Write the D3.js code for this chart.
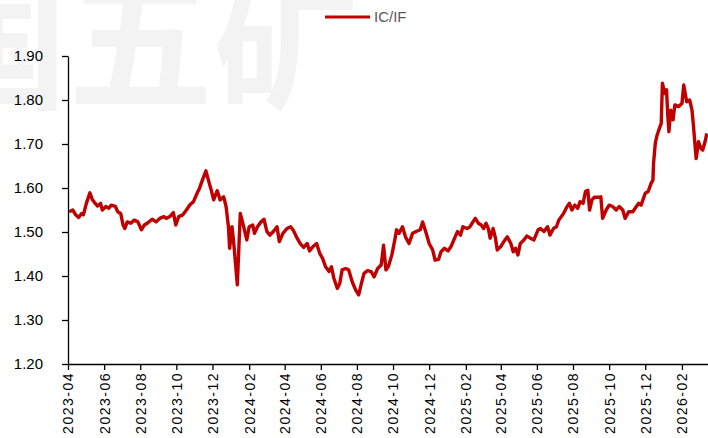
<!DOCTYPE html>
<html>
<head>
<meta charset="utf-8">
<script src="https://cdn.jsdelivr.net/npm/d3@7"></script>
<style>
    body { margin: 0; background: #fff; }
    svg { display: block; }
    .axis text { font-family: "Liberation Sans", Arial, sans-serif; fill: #000; }
</style>
</head>
<body>
<svg width="708" height="438"></svg>
<script>
/* IC/IF ratio data */

var dates = [
    "2023-04-03","2023-04-09","2023-04-14","2023-04-19","2023-04-24","2023-04-27","2023-05-02","2023-05-08",
    "2023-05-12","2023-05-17","2023-05-21","2023-05-26","2023-05-29","2023-06-04","2023-06-09","2023-06-13",
    "2023-06-20","2023-06-24","2023-06-29","2023-07-03","2023-07-06","2023-07-10","2023-07-16","2023-07-22",
    "2023-07-28","2023-08-03","2023-08-08","2023-08-14","2023-08-21","2023-08-28","2023-09-03","2023-09-10",
    "2023-09-14","2023-09-20","2023-09-26","2023-09-30","2023-10-05","2023-10-12","2023-10-18","2023-10-24",
    "2023-10-30","2023-11-05","2023-11-09","2023-11-14","2023-11-20","2023-11-25","2023-11-29","2023-12-03",
    "2023-12-09","2023-12-14","2023-12-20","2023-12-24","2023-12-28","2023-12-30","2024-01-03","2024-01-06",
    "2024-01-12","2024-01-17","2024-01-22","2024-01-28","2024-02-01","2024-02-07","2024-02-10","2024-02-15",
    "2024-02-21","2024-02-26","2024-03-02","2024-03-07","2024-03-13","2024-03-19","2024-03-23","2024-03-29",
    "2024-04-05","2024-04-11","2024-04-16","2024-04-22","2024-04-27","2024-05-03","2024-05-09","2024-05-13",
    "2024-05-19","2024-05-25","2024-05-30","2024-06-04","2024-06-09","2024-06-15","2024-06-19","2024-06-23",
    "2024-06-29","2024-07-03","2024-07-07","2024-07-13","2024-07-18","2024-07-24","2024-07-30","2024-08-04",
    "2024-08-08","2024-08-13","2024-08-19","2024-08-25","2024-08-30","2024-09-05","2024-09-11","2024-09-15",
    "2024-09-19","2024-09-23","2024-09-29","2024-10-04","2024-10-07","2024-10-11","2024-10-17","2024-10-22",
    "2024-10-28","2024-11-03","2024-11-09","2024-11-16","2024-11-20","2024-11-26","2024-12-01","2024-12-07",
    "2024-12-11","2024-12-17","2024-12-21","2024-12-27","2025-01-02","2025-01-07","2025-01-13","2025-01-18",
    "2025-01-23","2025-01-27","2025-02-03","2025-02-08","2025-02-13","2025-02-17","2025-02-22","2025-02-27",
    "2025-03-03","2025-03-07","2025-03-11","2025-03-14","2025-03-19","2025-03-23","2025-03-26","2025-04-01",
    "2025-04-06","2025-04-12","2025-04-18","2025-04-22","2025-04-26","2025-04-30","2025-05-04","2025-05-10",
    "2025-05-15","2025-05-21","2025-05-27","2025-06-03","2025-06-07","2025-06-13","2025-06-19","2025-06-23",
    "2025-06-29","2025-07-04","2025-07-08","2025-07-16","2025-07-22","2025-07-26","2025-07-30","2025-08-04",
    "2025-08-09","2025-08-13","2025-08-18","2025-08-22","2025-08-26","2025-08-29","2025-09-02","2025-09-06",
    "2025-09-14","2025-09-17","2025-09-20","2025-09-26","2025-10-01","2025-10-07","2025-10-13","2025-10-18",
    "2025-10-24","2025-10-28","2025-11-03","2025-11-10","2025-11-16","2025-11-20","2025-11-24","2025-12-01",
    "2025-12-06","2025-12-11","2025-12-14","2025-12-15","2025-12-18","2025-12-21","2025-12-25","2025-12-28",
    "2025-12-30","2026-01-03","2026-01-06","2026-01-08","2026-01-10","2026-01-13","2026-01-17","2026-01-20",
    "2026-01-26","2026-02-01","2026-02-04","2026-02-09","2026-02-14","2026-02-18","2026-02-21","2026-02-25",
    "2026-03-01","2026-03-05","2026-03-08","2026-03-12","2026-03-15"
];

var ratio = [
    1.546,1.550,1.539,1.533,1.542,1.539,1.565,1.589,
    1.574,1.565,1.559,1.565,1.550,1.558,1.554,1.561,
    1.558,1.546,1.542,1.516,1.508,1.523,1.520,1.527,
    1.523,1.505,1.516,1.521,1.529,1.523,1.531,1.535,
    1.531,1.535,1.544,1.516,1.535,1.539,1.550,1.562,
    1.569,1.588,1.599,1.618,1.639,1.614,1.595,1.573,
    1.594,1.573,1.580,1.558,1.512,1.463,1.512,1.474,
    1.380,1.542,1.516,1.482,1.512,1.516,1.497,1.512,
    1.523,1.529,1.501,1.493,1.501,1.512,1.478,1.497,
    1.508,1.512,1.503,1.486,1.474,1.465,1.474,1.457,
    1.467,1.474,1.452,1.440,1.421,1.410,1.421,1.395,
    1.372,1.383,1.414,1.417,1.414,1.387,1.368,1.357,
    1.380,1.406,1.412,1.410,1.398,1.417,1.425,1.470,
    1.414,1.421,1.448,1.482,1.505,1.497,1.512,1.489,
    1.474,1.497,1.501,1.505,1.523,1.497,1.474,1.459,
    1.436,1.438,1.455,1.463,1.457,1.467,1.486,1.501,
    1.493,1.512,1.508,1.512,1.523,1.531,1.520,1.516,
    1.508,1.520,1.508,1.486,1.508,1.486,1.459,1.467,
    1.478,1.489,1.474,1.455,1.463,1.448,1.474,1.482,
    1.491,1.486,1.482,1.505,1.508,1.501,1.512,1.493,
    1.508,1.512,1.527,1.542,1.558,1.565,1.550,1.561,
    1.554,1.569,1.565,1.592,1.595,1.550,1.573,1.579,
    1.579,1.580,1.531,1.550,1.561,1.558,1.550,1.558,
    1.550,1.531,1.546,1.546,1.558,1.565,1.561,1.588,
    1.592,1.611,1.618,1.656,1.702,1.720,1.736,1.747,
    1.838,1.815,1.823,1.766,1.728,1.777,1.755,1.789,
    1.785,1.792,1.834,1.796,1.800,1.777,1.732,1.667,
    1.705,1.690,1.686,1.705,1.724
];

var xTicks = ["2023-04","2023-06","2023-08","2023-10","2023-12","2024-02","2024-04","2024-06","2024-08",
              "2024-10","2024-12","2025-02","2025-04","2025-06","2025-08","2025-10","2025-12","2026-02"];
var yTicks = [1.20, 1.30, 1.40, 1.50, 1.60, 1.70, 1.80, 1.90];
var seriesName = "IC/IF";

var parseDay = d3.timeParse("%Y-%m-%d"),
    parseMonth = d3.timeParse("%Y-%m");

var data = dates.map(function (d, i) {
    return {date: parseDay(d), value: ratio[i]};
});

var svg = d3.select("svg"),
    plot = {left: 68, right: 708, top: 56, bottom: 364};

/* watermark */
svg.append("text")
    .attr("x", -222)
    .attr("y", 98)
    .attr("font-family", "Noto Sans CJK SC")
    .attr("font-weight", "bold")
    .attr("font-size", 145)
    .attr("fill", "#f3f3f3")
    .text("中国五矿");

var x = d3.scaleTime()
    .domain([parseMonth("2023-04"), parseDay("2026-03-17")])
    .range([plot.left, plot.right]);
var y = d3.scaleLinear()
    .domain([1.2, 1.9])
    .range([plot.bottom, plot.top]);

/* y axis */
var yAxis = svg.append("g")
    .attr("class", "axis")
    .attr("transform", "translate(" + plot.left + ",0)")
    .call(d3.axisLeft(y).tickValues(yTicks).tickFormat(d3.format(".2f"))
        .tickSize(6).tickSizeOuter(0).tickPadding(19));
yAxis.selectAll("text").attr("font-size", 15);

/* x axis, labels turned up */
var xAxis = svg.append("g")
    .attr("class", "axis")
    .attr("transform", "translate(0," + plot.bottom + ")")
    .call(d3.axisBottom(x).tickValues(xTicks.map(parseMonth)).tickFormat(d3.timeFormat("%Y-%m"))
        .tickSize(6).tickSizeOuter(0));
xAxis.selectAll("text")
    .attr("font-size", 14)
    .attr("letter-spacing", 1.5)
    .attr("text-anchor", "end")
    .attr("transform", "rotate(-90)")
    .attr("x", -8)
    .attr("y", 0)
    .attr("dy", "0.35em");

svg.selectAll(".axis path, .axis line").attr("stroke", "#000").attr("stroke-width", 1.3);

/* the line */
var line = d3.line()
    .x(function (d) { return x(d.date); })
    .y(function (d) { return y(d.value); });

svg.append("path")
    .datum(data)
    .attr("fill", "none")
    .attr("stroke", "#c00000")
    .attr("stroke-width", 3.4)
    .attr("stroke-linejoin", "round")
    .attr("d", line);

/* legend */
svg.append("line")
    .attr("x1", 325).attr("x2", 370)
    .attr("y1", 17).attr("y2", 17)
    .attr("stroke", "#c00000")
    .attr("stroke-width", 3);
svg.append("text")
    .attr("x", 374)
    .attr("y", 17)
    .attr("dy", "0.35em")
    .attr("font-family", "Liberation Sans, Arial, sans-serif")
    .attr("font-size", 15)
    .attr("fill", "#595959")
    .text(seriesName);
</script>
</body>
</html>
